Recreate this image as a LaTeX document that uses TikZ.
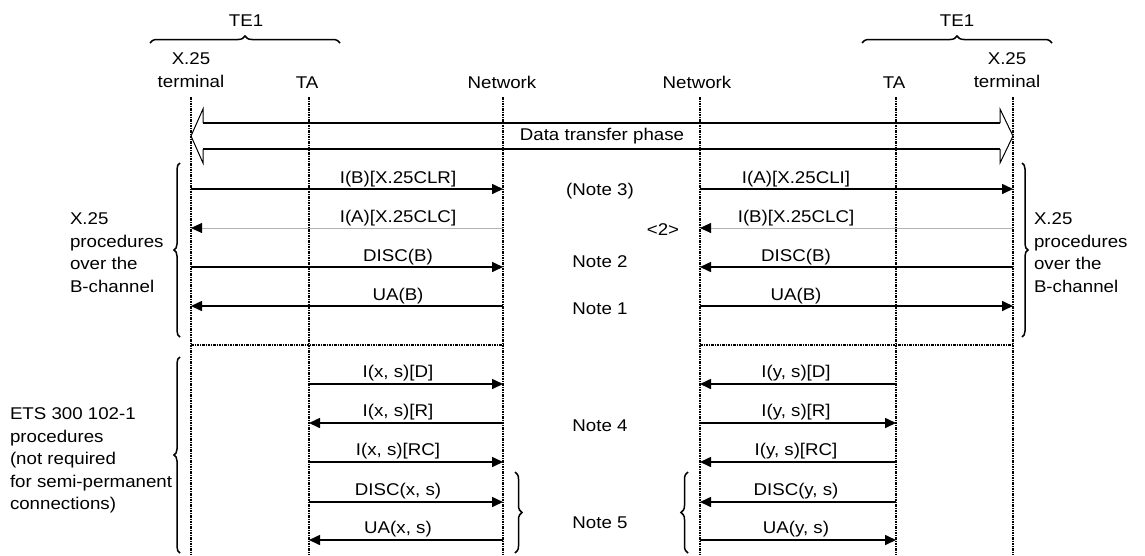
\documentclass[tikz,border=0pt]{standalone}
\usepackage{fontspec}
\setmainfont{Liberation Sans}[FakeStretch=1.1]
\usetikzlibrary{arrows.meta,decorations.pathreplacing}
\begin{document}
\begin{tikzpicture}[x=1pt,y=-1pt,
  every node/.style={font=\fontsize{17}{22.5}\selectfont, inner sep=0pt, outer sep=0pt},
  life/.style={line width=1.2pt, dash pattern=on 2.5pt off 1pt on 1pt off 1pt},
  msg/.style={line width=1.6pt, -{Triangle[length=11pt 0 0,width=10pt 0 0]}},
  gmsg/.style={line width=0.8pt, draw=black!30, -{Triangle[length=11pt 0 0,width=10pt 0 0,color=black,fill=black]}},
  brc/.style={decorate, decoration={brace, amplitude=#1}, line width=1.5pt},
  lbl/.style={anchor=base},
  side/.style={align=left, anchor=north west},
  head/.style={align=center, anchor=north},
  dtp/.style={line width=1.6pt},
  dth/.style={line width=1pt, line join=miter}]
\useasboundingbox (0,0) rectangle (1145,555);

% headers
\node[lbl] (te1l) at (246,26) {TE1};
\node[lbl] (te1r) at (957,26) {TE1};
\draw[brc=7pt] (150,43) -- (340,43);
\draw[brc=7pt] (862,43) -- (1052,43);
\node[head] (hxl) at (191,52.8) {X.25\\terminal};
\node[lbl] (hal) at (307,88) {TA};
\node[lbl] (hnl) at (502,88) {Network};
\node[lbl] (hnr) at (697,88) {Network};
\node[lbl] (har) at (894,88) {TA};
\node[head] (hxr) at (1007,52.8) {X.25\\terminal};

% lifelines
\coordinate (tl) at (191,97);
\coordinate (al) at (309,97);
\coordinate (nl) at (503,97);
\coordinate (nr) at (700,97);
\coordinate (ar) at (896,97);
\coordinate (tr) at (1013,97);
\foreach \c in {tl,al,nl,nr,ar,tr}{\draw[life] (\c) -- (\c |- 0,555);}

% data transfer phase
\draw[dtp] (203,123) -- (1000,123);
\draw[dtp] (203,149) -- (1000,149);
\draw[dth] (203,123) -- (203,109) -- (tl |- 0,136) -- (203,163) -- (203,149);
\draw[dth] (1000,123) -- (1000,109) -- (tr |- 0,136) -- (1000,163) -- (1000,149);
\node (dt) at (602,136) {Data transfer phase};

% X.25 section, left
\draw[msg] (tl |- 0,189) -- (nl |- 0,189);
\node[lbl] (m1) at (398,183) {I(B)[X.25CLR]};
\draw[gmsg] (nl |- 0,228) -- (tl |- 0,228);
\node[lbl] (m2) at (398,222) {I(A)[X.25CLC]};
\draw[msg] (tl |- 0,267) -- (nl |- 0,267);
\node[lbl] (m3) at (398,261) {DISC(B)};
\draw[msg] (nl |- 0,306) -- (tl |- 0,306);
\node[lbl] (m4) at (398,300) {UA(B)};

% X.25 section, right
\draw[msg] (nr |- 0,189) -- (tr |- 0,189);
\node[lbl] (r1) at (796,183) {I(A)[X.25CLI]};
\draw[gmsg] (tr |- 0,228) -- (nr |- 0,228);
\node[lbl] (r2) at (796,222) {I(B)[X.25CLC]};
\draw[msg] (tr |- 0,267) -- (nr |- 0,267);
\node[lbl] (r3) at (796,261) {DISC(B)};
\draw[msg] (nr |- 0,306) -- (tr |- 0,306);
\node[lbl] (r4) at (796,300) {UA(B)};

% notes
\node (n3) at (600,191) {(Note 3)};
\node (n2b) at (663,230) {<2>};
\node (n2) at (600,262) {Note 2};
\node (n1) at (600,309) {Note 1};

% separators
\draw[life] (tl |- 0,345) -- (nl |- 0,345);
\draw[life] (nr |- 0,345) -- (tr |- 0,345);

% side braces and labels
\draw[brc=6pt] (180,337) -- (180,163);
\node[side] (sl) at (70,212.8) {X.25\\procedures\\over the\\B-channel};
\draw[brc=6pt] (1022,163) -- (1022,337);
\node[side] (sr) at (1034,212.8) {X.25\\procedures\\over the\\B-channel};
\draw[brc=6pt] (180,553) -- (180,357);
\node[side] (se) at (10,407.8) {ETS 300 102-1\\procedures\\(not required\\for semi-permanent\\connections)};

% ETS section, left
\draw[msg] (al |- 0,384) -- (nl |- 0,384);
\node[lbl] (e1) at (398,377) {I(x, s)[D]};
\draw[msg] (nl |- 0,423) -- (al |- 0,423);
\node[lbl] (e2) at (398,416) {I(x, s)[R]};
\draw[msg] (al |- 0,462) -- (nl |- 0,462);
\node[lbl] (e3) at (398,455) {I(x, s)[RC]};
\draw[msg] (al |- 0,502) -- (nl |- 0,502);
\node[lbl] (e4) at (398,495) {DISC(x, s)};
\draw[msg] (nl |- 0,540) -- (al |- 0,540);
\node[lbl] (e5) at (398,533) {UA(x, s)};

% ETS section, right
\draw[msg] (ar |- 0,384) -- (nr |- 0,384);
\node[lbl] (f1) at (796,377) {I(y, s)[D]};
\draw[msg] (nr |- 0,423) -- (ar |- 0,423);
\node[lbl] (f2) at (796,416) {I(y, s)[R]};
\draw[msg] (ar |- 0,462) -- (nr |- 0,462);
\node[lbl] (f3) at (796,455) {I(y, s)[RC]};
\draw[msg] (ar |- 0,502) -- (nr |- 0,502);
\node[lbl] (f4) at (796,495) {DISC(y, s)};
\draw[msg] (nr |- 0,540) -- (ar |- 0,540);
\node[lbl] (f5) at (796,533) {UA(y, s)};

\node (n4) at (600,426) {Note 4};
\node (n5) at (600,523) {Note 5};
\draw[brc=7pt] (515,472) -- (515,553);
\draw[brc=7pt] (688,553) -- (688,472);
\end{tikzpicture}
\end{document}
